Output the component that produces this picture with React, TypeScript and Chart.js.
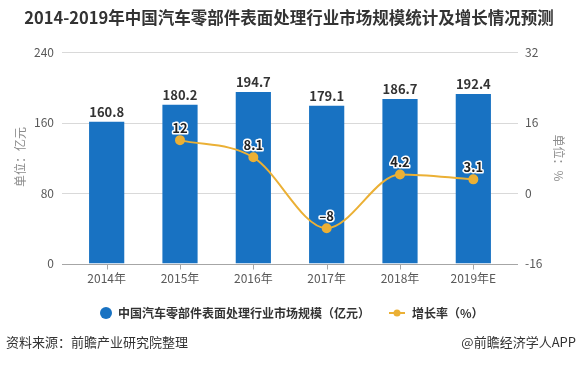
import React, { useEffect, useRef } from "react";
import { Chart, registerables } from "chart.js";

Chart.register(...registerables);

const categories = ["2014年", "2015年", "2016年", "2017年", "2018年", "2019年E"];
const marketSize = [160.8, 180.2, 194.7, 179.1, 186.7, 192.4];
const growthRate: (number | null)[] = [null, 12, 8.1, -8, 4.2, 3.1];
const leftTicks = { min: 0, max: 240, step: 80 };
const rightTicks = { min: -16, max: 32, step: 16 };

const titleText = "2014-2019年中国汽车零部件表面处理行业市场规模统计及增长情况预测";
const barLegend = "中国汽车零部件表面处理行业市场规模（亿元）";
const lineLegend = "增长率（%）";
const leftTitle = "单位：亿元";
const rightTitle = "单位：%";
const sourceText = "资料来源：前瞻产业研究院整理";
const brandText = "@前瞻经济学人APP";

const FONT = '"Noto Sans CJK SC", "Noto Sans", sans-serif';
const BLUE = "#1872c2";
const GOLD = "#ebb035";

const overlay = {
  id: "overlay",
  beforeDatasetsDraw(chart: any) {
    const { ctx, chartArea } = chart;
    const y = chart.scales.y;
    ctx.save();
    const gx0 = chartArea.left - 8;
    const gx1 = chartArea.right + 8;
    for (let v = leftTicks.min + leftTicks.step; v <= leftTicks.max; v += leftTicks.step) {
      const py = Math.round(y.getPixelForValue(v)) + 0.5;
      ctx.strokeStyle = "#d9d9d9";
      ctx.lineWidth = 1;
      ctx.beginPath();
      ctx.moveTo(gx0, py);
      ctx.lineTo(gx1, py);
      ctx.stroke();
    }
    ctx.restore();
  },
  afterDatasetsDraw(chart: any) {
    const { ctx, chartArea } = chart;
    const y = chart.scales.y;
    const x = chart.scales.x;
    ctx.save();
    // axis line
    const by = Math.round(y.getPixelForValue(0)) + 0.5;
    ctx.strokeStyle = "#a6a6a6";
    ctx.lineWidth = 1;
    ctx.beginPath();
    ctx.moveTo(chartArea.left - 8, by);
    ctx.lineTo(chartArea.right + 8, by);
    ctx.stroke();
    categories.forEach((_, i) => {
      const px = Math.round(x.getPixelForValue(i)) + 0.5;
      ctx.beginPath();
      ctx.moveTo(px, by);
      ctx.lineTo(px, by + 5);
      ctx.stroke();
    });

    // bar labels
    const barMeta = chart.getDatasetMeta(0);
    ctx.font = `bold 13px ${FONT}`;
    ctx.fillStyle = "#333333";
    ctx.textAlign = "center";
    ctx.textBaseline = "bottom";
    barMeta.data.forEach((el: any, i: number) => {
      ctx.fillText(String(marketSize[i]), el.x, el.y - 3);
    });

    // line labels
    const lineMeta = chart.getDatasetMeta(1);
    ctx.font = `bold 13px ${FONT}`;
    ctx.lineJoin = "round";
    lineMeta.data.forEach((el: any, i: number) => {
      const v = growthRate[i];
      if (v === null || v === undefined) return;
      const txt = String(v).replace("-", "–");
      ctx.strokeStyle = "#ffffff";
      ctx.lineWidth = 3;
      ctx.strokeText(txt, el.x, el.y - 6);
      ctx.fillStyle = "#222222";
      ctx.fillText(txt, el.x, el.y - 6);
    });

    // title
    ctx.font = `bold 16.5px ${FONT}`;
    ctx.fillStyle = "#333333";
    ctx.textAlign = "center";
    ctx.textBaseline = "middle";
    ctx.fillText(titleText, 289, 18);

    // axis titles
    ctx.font = `12px ${FONT}`;
    ctx.fillStyle = "#8c8c8c";
    ctx.save();
    ctx.translate(20, 157);
    ctx.rotate(-Math.PI / 2);
    ctx.fillText(leftTitle, 0, 0);
    ctx.restore();
    ctx.save();
    ctx.translate(559, 158);
    ctx.rotate(Math.PI / 2);
    ctx.fillText(rightTitle, 0, 0);
    ctx.restore();

    // legend
    const ly = 313;
    ctx.fillStyle = BLUE;
    ctx.beginPath();
    ctx.arc(106, ly, 6, 0, Math.PI * 2);
    ctx.fill();
    ctx.font = `bold 12px ${FONT}`;
    ctx.fillStyle = "#333333";
    ctx.textAlign = "left";
    ctx.fillText(barLegend, 118, ly);
    ctx.strokeStyle = GOLD;
    ctx.lineWidth = 2;
    ctx.beginPath();
    ctx.moveTo(389, ly);
    ctx.lineTo(405, ly);
    ctx.stroke();
    ctx.fillStyle = GOLD;
    ctx.beginPath();
    ctx.arc(397, ly, 3.5, 0, Math.PI * 2);
    ctx.fill();
    ctx.fillStyle = "#333333";
    ctx.fillText(lineLegend, 412, ly);

    // footer
    ctx.font = `13px ${FONT}`;
    ctx.fillStyle = "#333333";
    ctx.textAlign = "left";
    ctx.fillText(sourceText, 6, 342);
    ctx.textAlign = "right";
    ctx.fillText(brandText, 576, 342);
    ctx.restore();
  },
};

export default function App() {
  const ref = useRef<HTMLCanvasElement | null>(null);
  useEffect(() => {
    if (!ref.current) return;
    const chart = new Chart(ref.current, {
      type: "bar",
      data: {
        labels: categories,
        datasets: [
          {
            type: "bar",
            label: barLegend,
            data: marketSize,
            backgroundColor: BLUE,
            yAxisID: "y",
            categoryPercentage: 0.48,
            barPercentage: 1,
            order: 1,
          },
          {
            type: "line",
            label: lineLegend,
            data: growthRate as any,
            borderColor: GOLD,
            backgroundColor: GOLD,
            pointBackgroundColor: GOLD,
            pointBorderColor: GOLD,
            pointRadius: 4,
            borderWidth: 2,
            cubicInterpolationMode: "monotone",
            yAxisID: "y1",
            order: 0,
          } as any,
        ],
      },
      options: {
        responsive: false,
        animation: false,
        layout: { padding: { top: 52, bottom: 71.5, left: 0, right: 0 } },
        plugins: {
          legend: { display: false },
          tooltip: { enabled: false },
          title: { display: false },
        },
        scales: {
          x: {
            grid: { display: false, drawTicks: false },
            border: { display: false },
            ticks: { color: "#595959", font: { size: 12, family: FONT }, padding: 8 },
            afterFit: (s: any) => {
              s.height = 30;
            },
          },
          y: {
            position: "left",
            min: leftTicks.min,
            max: leftTicks.max,
            grid: { display: false, drawTicks: false },
            border: { display: false },
            ticks: {
              stepSize: leftTicks.step,
              color: "#595959",
              font: { size: 12, family: FONT },
              padding: 16,
            },
            afterFit: (s: any) => {
              s.width = 70;
            },
          },
          y1: {
            position: "right",
            min: rightTicks.min,
            max: rightTicks.max,
            grid: { display: false, drawTicks: false },
            border: { display: false },
            ticks: {
              stepSize: rightTicks.step,
              color: "#595959",
              font: { size: 12, family: FONT },
              padding: 15,
            },
            afterFit: (s: any) => {
              s.width = 67;
            },
          },
        },
      },
      plugins: [overlay],
    });
    return () => chart.destroy();
  }, []);
  return (
    <div style={{ position: "absolute", left: 0, top: 0, width: 577, height: 365, background: "#fff" }}>
      <canvas ref={ref} width={577} height={365} />
    </div>
  );
}
